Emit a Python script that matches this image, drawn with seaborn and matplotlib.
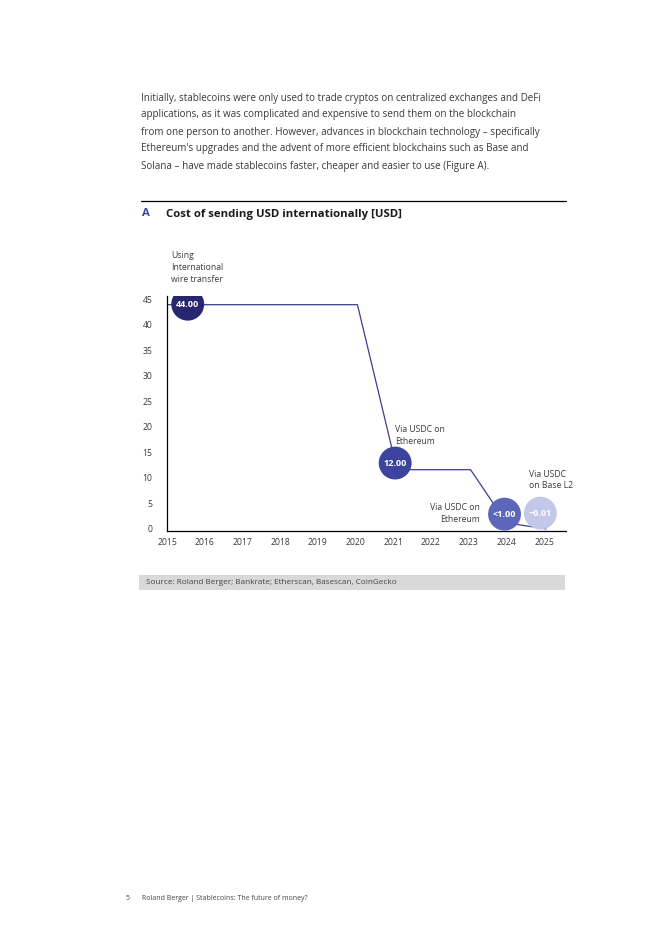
import matplotlib
matplotlib.use("Agg")
from matplotlib import pyplot as plt
from matplotlib.lines import Line2D
from matplotlib.patches import Rectangle
import numpy as np
import pandas as pd
import seaborn as sns

# cost path (year, USD)
line_years = [2015, 2020.05, 2021.1, 2023.05, 2024, 2025.05]
line_costs = [43.9, 43.9, 11.6, 11.6, 1.2, 0.01]

# bubbles
bubble_labels = ["44.00", "12.00", "<1.00", "~0.01"]
bubble_years = [2015.55, 2021.05, 2023.95, 2024.9]
bubble_heights = [44.0, 12.9, 2.9, 3.1]
bubble_colors = ["#27266f", "#3d44a0", "#5c66bb", "#c3c8ea"]

notes = ["Using\nInternational\nwire transfer", "Via USDC on\nEthereum",
         "Via USDC on\nEthereum", "Via USDC\non Base L2"]
note_years = [2015.1, 2021.05, 2023.3, 2024.6]
note_tops = [54.4, 20.4, 5.1, 11.6]
note_ha = ["left", "left", "right", "left"]

x_ticks = list(range(2015, 2026))
y_ticks = list(range(0, 50, 5))

body = [
    "Initially, stablecoins were only used to trade cryptos on centralized exchanges and DeFi",
    "applications, as it was complicated and expensive to send them on the blockchain",
    "from one person to another. However, advances in blockchain technology \u2013 specifically",
    "Ethereum's upgrades and the advent of more efficient blockchains such as Base and",
    "Solana \u2013 have made stablecoins faster, cheaper and easier to use (Figure A).",
]

sns.set_theme(style="white")
plt.rcParams["font.family"] = ["Open Sans", "DejaVu Sans"]

W, H = 662, 936
fig = plt.figure(figsize=(W / 100, H / 100), dpi=100)

def fx(px):
    return px / W

def fy(py):
    return 1 - py / H

text_col = "#3a3a3a"
for i, line in enumerate(body):
    fig.text(fx(141), fy(98 + 17 * i), line, fontsize=7.15, color=text_col, va="center")

fig.add_artist(Line2D([fx(141), fx(566)], [fy(201), fy(201)], color="black", lw=0.9))
fig.text(fx(142), fy(214), "A", fontsize=8.2, fontweight="bold", color="#3d44a0", va="center")
fig.text(fx(166), fy(214), "Cost of sending USD internationally [USD]", fontsize=8.2,
         fontweight="bold", color="#1a1a1a", va="center")

ax = fig.add_axes([fx(167), fy(531), fx(566) - fx(167), (531 - 296) / H])
line_df = pd.DataFrame({"year": line_years, "cost": line_costs})
sns.lineplot(data=line_df, x="year", y="cost", ax=ax, color="#3a3d96", lw=0.9,
             estimator=None, sort=False, zorder=2)

bub_df = pd.DataFrame({"year": bubble_years, "h": bubble_heights, "lab": bubble_labels})
sns.scatterplot(data=bub_df, x="year", y="h", hue="lab", palette=bubble_colors,
                s=560, linewidth=0, legend=False, ax=ax, zorder=3)
for x, y, lab in zip(bubble_years, bubble_heights, bubble_labels):
    ax.text(x, y, lab, color="white", fontsize=6.6, fontweight="bold",
            ha="center", va="center", zorder=4)

for t, x, y, ha in zip(notes, note_years, note_tops, note_ha):
    ax.text(x, y, t, fontsize=6.2, color=text_col, ha=ha, va="top",
            linespacing=1.4, clip_on=False)

ax.set_xlim(2015, 2025.58)
ax.set_ylim(-0.4, 45.6)
ax.set_xticks(x_ticks)
ax.set_yticks(y_ticks)
ax.set_xticklabels([str(v) for v in x_ticks], fontsize=6.2, color=text_col)
ax.set_yticklabels([str(v) for v in y_ticks], fontsize=6.2, color=text_col)
ax.tick_params(axis="both", length=0, pad=5)
ax.tick_params(axis="y", pad=10.5)
ax.set_xlabel("")
ax.set_ylabel("")
sns.despine(ax=ax)
for s in ["left", "bottom"]:
    ax.spines[s].set_color("black")
    ax.spines[s].set_linewidth(0.9)

fig.add_artist(Rectangle((fx(139), fy(590)), fx(565) - fx(139), 15 / H,
                         color="#d9d9d9", lw=0, transform=fig.transFigure))
fig.text(fx(146), fy(582.5), "Source: Roland Berger; Bankrate; Etherscan, Basescan, CoinGecko",
         fontsize=5.9, color="#444444", va="center")

fig.text(fx(126), fy(898), "5", fontsize=5.0, color="#444444", va="center")
fig.text(fx(142), fy(898), "Roland Berger | Stablecoins: The future of money?",
         fontsize=5.0, color="#444444", va="center")

fig.savefig("out.png", dpi=100)
